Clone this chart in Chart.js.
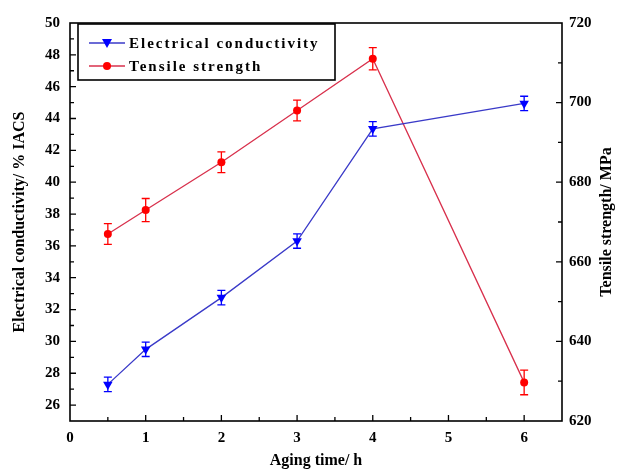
<!DOCTYPE html>
<html>
<head>
<meta charset="utf-8">
<script src="https://cdn.jsdelivr.net/npm/chart.js@4/dist/chart.umd.min.js"></script>
<style>
  html,body{margin:0;padding:0;background:#fff;}
  #wrap{width:623px;height:474px;}
</style>
</head>
<body>
<div id="wrap"><canvas id="grafico" width="623" height="474"></canvas></div>
<script>
// aging time (h)
const tempi = [0.5, 1, 2, 3, 4, 6];
// electrical conductivity (% IACS) and error
const conducibilita = [27.3, 29.5, 32.75, 36.3, 43.35, 44.95];
const errCond = [0.45, 0.45, 0.45, 0.45, 0.45, 0.45];
// tensile strength (MPa) and error
const resistenza = [667, 673, 685, 698, 711, 629.7];
const errRes = [2.6, 2.9, 2.6, 2.6, 2.8, 3.1];

const xTicks = [0, 1, 2, 3, 4, 5, 6];
const yTicks = [26, 28, 30, 32, 34, 36, 38, 40, 42, 44, 46, 48, 50];
const y1Ticks = [620, 640, 660, 680, 700, 720];

const BLU = '#0000ff', BLU_LINEA = '#3a3ac8';
const ROSSO = '#ff0000', ROSSO_LINEA = '#d8304c';
const SERIF = '"Liberation Serif","Times New Roman",serif';

const punti = (xs, ys) => xs.map((x, i) => ({x: x, y: ys[i]}));

// error bars, axis ticks, frame, legend, right title
const extra = {
  id: 'extra',
  afterDatasetsDraw(chart) {
    const ctx = chart.ctx, a = chart.chartArea;
    const sx = chart.scales.x, sy = chart.scales.y, sy1 = chart.scales.y1;
    ctx.save();
    // error bars
    const barre = (ys, errs, scala, col) => {
      ctx.strokeStyle = col; ctx.lineWidth = 1.3;
      tempi.forEach((t, i) => {
        const px = sx.getPixelForValue(t);
        const top = scala.getPixelForValue(ys[i] + errs[i]);
        const bot = scala.getPixelForValue(ys[i] - errs[i]);
        ctx.beginPath();
        ctx.moveTo(px, top); ctx.lineTo(px, bot);
        ctx.moveTo(px - 4, top); ctx.lineTo(px + 4, top);
        ctx.moveTo(px - 4, bot); ctx.lineTo(px + 4, bot);
        ctx.stroke();
      });
    };
    barre(conducibilita, errCond, sy, BLU);
    barre(resistenza, errRes, sy1, ROSSO);

    // frame
    ctx.strokeStyle = '#000'; ctx.lineWidth = 1.6;
    ctx.strokeRect(a.left, a.top, a.right - a.left, a.bottom - a.top);

    // inward ticks
    ctx.lineWidth = 1.3;
    ctx.beginPath();
    for (let v = 0.5; v < 6.5; v += 0.5) {
      const px = sx.getPixelForValue(v);
      const len = Number.isInteger(v) ? 6 : 4;
      ctx.moveTo(px, a.bottom); ctx.lineTo(px, a.bottom - len);
    }
    for (let v = 26; v < 50; v += 1) {
      const py = sy.getPixelForValue(v);
      const len = v % 2 === 0 ? 6 : 4;
      ctx.moveTo(a.left, py); ctx.lineTo(a.left + len, py);
    }
    for (let v = 630; v < 720; v += 10) {
      const py = sy1.getPixelForValue(v);
      const len = v % 20 === 0 ? 6 : 4;
      ctx.moveTo(a.right, py); ctx.lineTo(a.right - len, py);
    }
    ctx.stroke();

    // legend
    ctx.fillStyle = '#fff';
    ctx.fillRect(78, 24, 257, 56);
    ctx.strokeStyle = '#000'; ctx.lineWidth = 1.6;
    ctx.strokeRect(78, 24, 257, 56);
    const voci = [
      {txt: 'Electrical conductivity', y: 43, linea: BLU_LINEA, col: BLU, forma: 'tri'},
      {txt: 'Tensile strength', y: 66, linea: ROSSO_LINEA, col: ROSSO, forma: 'cerchio'}
    ];
    voci.forEach(v => {
      ctx.strokeStyle = v.linea; ctx.lineWidth = 1.3;
      ctx.beginPath(); ctx.moveTo(89, v.y); ctx.lineTo(125, v.y); ctx.stroke();
      ctx.fillStyle = v.col;
      ctx.beginPath();
      if (v.forma === 'tri') {
        ctx.moveTo(102, v.y - 4); ctx.lineTo(112, v.y - 4); ctx.lineTo(107, v.y + 5);
      } else {
        ctx.arc(107, v.y, 4, 0, Math.PI * 2);
      }
      ctx.fill();
      ctx.fillStyle = '#000';
      ctx.font = 'bold 15px ' + SERIF;
      ctx.letterSpacing = '2px';
      ctx.textBaseline = 'middle';
      ctx.textAlign = 'left';
      ctx.fillText(v.txt, 129, v.y + 1);
    });
    ctx.letterSpacing = '0px';

    // right axis title (reads bottom to top)
    ctx.translate(607, (a.top + a.bottom) / 2);
    ctx.rotate(-Math.PI / 2);
    ctx.fillStyle = '#000';
    ctx.font = 'bold 16px ' + SERIF;
    ctx.textAlign = 'center'; ctx.textBaseline = 'middle';
    ctx.fillText('Tensile strength/ MPa', 0, 0);
    ctx.restore();
  }
};

const fontTick = {family: SERIF, size: 15, weight: 'bold'};

new Chart(document.getElementById('grafico').getContext('2d'), {
  type: 'line',
  data: {
    datasets: [
      {
        label: 'Electrical conductivity',
        data: punti(tempi, conducibilita),
        yAxisID: 'y',
        borderColor: BLU_LINEA, borderWidth: 1.3,
        pointStyle: 'triangle', rotation: 180, pointRadius: 5.5,
        pointBackgroundColor: BLU, pointBorderColor: BLU, pointBorderWidth: 0,
        tension: 0, fill: false
      },
      {
        label: 'Tensile strength',
        data: punti(tempi, resistenza),
        yAxisID: 'y1',
        borderColor: ROSSO_LINEA, borderWidth: 1.3,
        pointStyle: 'circle', pointRadius: 4,
        pointBackgroundColor: ROSSO, pointBorderColor: ROSSO, pointBorderWidth: 0,
        tension: 0, fill: false
      }
    ]
  },
  options: {
    responsive: false,
    animation: false,
    layout: {padding: {top: 23, left: 0, right: 0, bottom: 0}},
    plugins: {legend: {display: false}, tooltip: {enabled: false}},
    scales: {
      x: {
        type: 'linear', min: 0, max: 6.5,
        afterBuildTicks: s => { s.ticks = xTicks.map(v => ({value: v})); },
        afterFit: s => { s.height = 53; },
        grid: {display: false, drawTicks: false},
        border: {display: false},
        ticks: {color: '#000', font: fontTick, padding: 8},
        title: {display: true, text: 'Aging time/ h', color: '#000',
                font: {family: SERIF, size: 16, weight: 'bold'}, padding: {top: 6}}
      },
      y: {
        position: 'left', min: 25, max: 50,
        afterBuildTicks: s => { s.ticks = yTicks.map(v => ({value: v})); },
        afterFit: s => { s.width = 70; },
        grid: {display: false, drawTicks: false},
        border: {display: false},
        ticks: {color: '#000', font: fontTick, padding: 10},
        title: {display: true, text: 'Electrical conductivity/ % IACS', color: '#000',
                font: {family: SERIF, size: 16, weight: 'bold'}, padding: {top: 10, bottom: 0}}
      },
      y1: {
        position: 'right', min: 620, max: 720,
        afterBuildTicks: s => { s.ticks = y1Ticks.map(v => ({value: v})); },
        afterFit: s => { s.width = 61; },
        grid: {display: false, drawTicks: false},
        border: {display: false},
        ticks: {color: '#000', font: fontTick, padding: 7}
      }
    }
  },
  plugins: [extra]
});
</script>
</body>
</html>
